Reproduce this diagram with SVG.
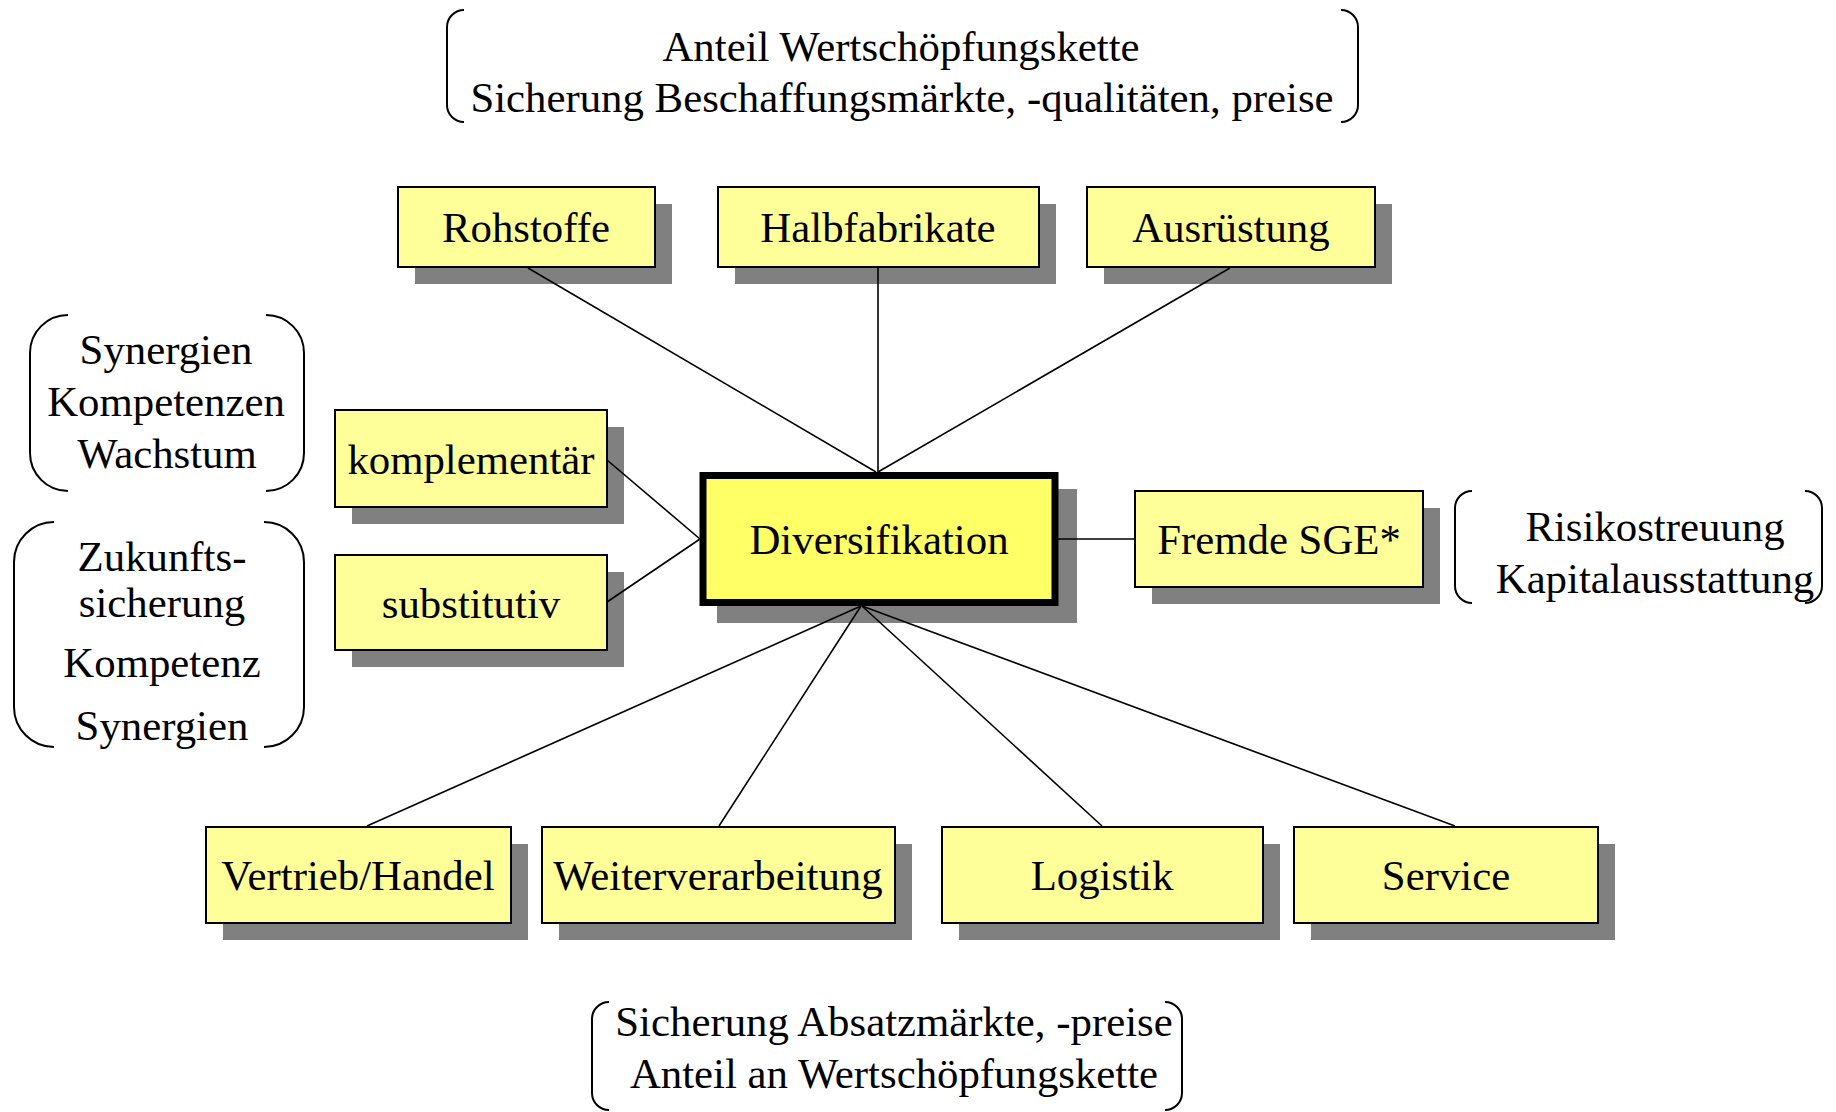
<svg xmlns="http://www.w3.org/2000/svg" width="1836" height="1112" viewBox="0 0 1836 1112">
  <style>
    text { font-family: "Liberation Serif", "Times New Roman", serif; font-size: 42.8px; fill: #000; text-anchor: middle; }
    .box { fill: #FFFF99; stroke: #000; stroke-width: 2; }
    .main { fill: #FFFF66; stroke: #000; stroke-width: 7; }
    .shadow { fill: #808080; }
    .brace { fill: none; stroke: #000; stroke-width: 2; }
    .link { stroke: #000; stroke-width: 1.6; fill: none; }
  </style>

  <rect x="0" y="0" width="1836" height="1112" fill="#fff"/>

  <!-- annotation braces -->
  <g id="note-procurement">
    <path class="brace" d="M464,10 A17,17 0 0 0 447,27 V105 A17,17 0 0 0 464,122"/>
    <path class="brace" d="M1341,10 A17,17 0 0 1 1358,27 V105 A17,17 0 0 1 1341,122"/>
    <text x="901" y="61">Anteil Wertschöpfungskette</text>
    <text x="902" y="112">Sicherung Beschaffungsmärkte, -qualitäten, preise</text>
  </g>

  <g id="note-complementary">
    <path class="brace" d="M68,315 A38,38 0 0 0 30,353 V453 A38,38 0 0 0 68,491"/>
    <path class="brace" d="M266,315 A38,38 0 0 1 304,353 V453 A38,38 0 0 1 266,491"/>
    <text x="166" y="364">Synergien</text>
    <text x="166" y="416">Kompetenzen</text>
    <text x="167" y="468">Wachstum</text>
  </g>

  <g id="note-substitutive">
    <path class="brace" d="M54,522 A40,40 0 0 0 14,562 V707 A40,40 0 0 0 54,747"/>
    <path class="brace" d="M264,522 A40,40 0 0 1 304,562 V707 A40,40 0 0 1 264,747"/>
    <text x="162" y="571">Zukunfts-</text>
    <text x="162" y="617">sicherung</text>
    <text x="162" y="677">Kompetenz</text>
    <text x="162" y="740">Synergien</text>
  </g>

  <g id="note-external">
    <path class="brace" d="M1472,491 A17,17 0 0 0 1455,508 V586 A17,17 0 0 0 1472,603"/>
    <path class="brace" d="M1805,491 A17,17 0 0 1 1822,508 V586 A17,17 0 0 1 1805,603"/>
    <text x="1655" y="541">Risikostreuung</text>
    <text x="1655" y="593">Kapitalausstattung</text>
  </g>

  <g id="note-sales">
    <path class="brace" d="M609,1002 A17,17 0 0 0 592,1019 V1093 A17,17 0 0 0 609,1110"/>
    <path class="brace" d="M1165,1002 A17,17 0 0 1 1182,1019 V1093 A17,17 0 0 1 1165,1110"/>
    <text x="894" y="1036">Sicherung Absatzmärkte, -preise</text>
    <text x="894" y="1088">Anteil an Wertschöpfungskette</text>
  </g>

  <!-- nodes -->
  <g id="rohstoffe">
    <rect class="shadow" x="415" y="204" width="257" height="80"/>
    <rect class="box" x="398" y="187" width="257" height="80"/>
    <text x="526" y="242">Rohstoffe</text>
  </g>
  <g id="halbfabrikate">
    <rect class="shadow" x="735" y="204" width="321" height="80"/>
    <rect class="box" x="718" y="187" width="321" height="80"/>
    <text x="878" y="242">Halbfabrikate</text>
  </g>
  <g id="ausruestung">
    <rect class="shadow" x="1104" y="204" width="288" height="80"/>
    <rect class="box" x="1087" y="187" width="288" height="80"/>
    <text x="1231" y="242">Ausrüstung</text>
  </g>
  <g id="komplementaer">
    <rect class="shadow" x="352" y="427" width="272" height="97"/>
    <rect class="box" x="335" y="410" width="272" height="97"/>
    <text x="471" y="474">komplementär</text>
  </g>
  <g id="substitutiv">
    <rect class="shadow" x="352" y="572" width="272" height="95"/>
    <rect class="box" x="335" y="555" width="272" height="95"/>
    <text x="471" y="618">substitutiv</text>
  </g>
  <g id="diversifikation">
    <rect class="shadow" x="717" y="489" width="360" height="134"/>
    <rect class="main" x="703" y="475.5" width="352" height="127"/>
    <text x="879" y="554">Diversifikation</text>
  </g>
  <g id="fremde-sge">
    <rect class="shadow" x="1152" y="508" width="288" height="96"/>
    <rect class="box" x="1135" y="491" width="288" height="96"/>
    <text x="1279" y="554">Fremde SGE*</text>
  </g>
  <g id="vertrieb">
    <rect class="shadow" x="223" y="844" width="305" height="96"/>
    <rect class="box" x="206" y="827" width="305" height="96"/>
    <text x="358" y="890">Vertrieb/Handel</text>
  </g>
  <g id="weiterverarbeitung">
    <rect class="shadow" x="559" y="844" width="353" height="96"/>
    <rect class="box" x="542" y="827" width="353" height="96"/>
    <text x="718" y="890">Weiterverarbeitung</text>
  </g>
  <g id="logistik">
    <rect class="shadow" x="959" y="844" width="321" height="96"/>
    <rect class="box" x="942" y="827" width="321" height="96"/>
    <text x="1102" y="890">Logistik</text>
  </g>
  <g id="service">
    <rect class="shadow" x="1311" y="844" width="304" height="96"/>
    <rect class="box" x="1294" y="827" width="304" height="96"/>
    <text x="1446" y="890">Service</text>
  </g>

  <!-- connectors -->
  <g id="connectors">
    <line class="link" x1="528" y1="268" x2="876" y2="472"/>
    <line class="link" x1="878" y1="268" x2="878" y2="472"/>
    <line class="link" x1="1230" y1="268" x2="878" y2="472"/>
    <line class="link" x1="607" y1="460" x2="700" y2="539"/>
    <line class="link" x1="607" y1="602" x2="700" y2="539"/>
    <line class="link" x1="1058" y1="539" x2="1135" y2="539"/>
    <line class="link" x1="861" y1="606" x2="367" y2="826"/>
    <line class="link" x1="861" y1="606" x2="719" y2="826"/>
    <line class="link" x1="862" y1="606" x2="1102" y2="826"/>
    <line class="link" x1="862" y1="606" x2="1455" y2="826"/>
  </g>
</svg>
